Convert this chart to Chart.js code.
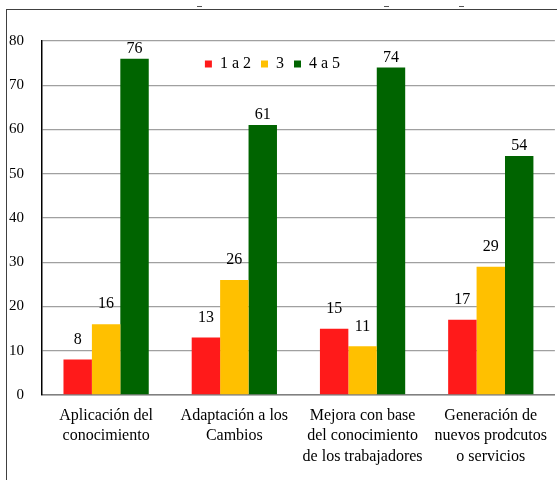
<!DOCTYPE html>
<html>
<head>
<meta charset="utf-8">
<script src="https://cdn.jsdelivr.net/npm/chart.js@4"></script>
<style>
  body { margin: 0; background: #fff; }
  #wrap { position: relative; width: 557px; height: 480px; overflow: hidden; }
  #marco { position: absolute; left: 6px; top: 9px; width: 600px; height: 500px;
           border-left: 1px solid #404040; border-top: 1px solid #404040; }
  .resto { position: absolute; top: 6px; width: 5px; height: 1px; background: #555; }
  canvas { position: absolute; left: 0; top: 0; }
</style>
</head>
<body>
<div id="wrap">
  <div class="resto" style="left:197px"></div>
  <div class="resto" style="left:384px"></div>
  <div class="resto" style="left:459px"></div>
  <div id="marco"></div>
  <canvas id="grafico" width="557" height="480"></canvas>
</div>
<script>
const categorias = [
  ['Aplicación del', 'conocimiento'],
  ['Adaptación a los', 'Cambios'],
  ['Mejora con base', 'del conocimiento', 'de los trabajadores'],
  ['Generación de', 'nuevos prodcutos', 'o servicios']
];
const serie1a2 = [8, 13, 15, 17];
const serie3 = [16, 26, 11, 29];
const serie4a5 = [76, 61, 74, 54];
const ticksY = [0, 10, 20, 30, 40, 50, 60, 70, 80];

const fuente = '"Liberation Serif", serif';

// etiquetas de valor encima de cada barra
const etiquetas = {
  id: 'etiquetas',
  afterDatasetsDraw(chart, args, opts) {
    const ctx = chart.ctx;
    ctx.save();
    ctx.font = '16px ' + fuente;
    ctx.fillStyle = '#000';
    ctx.textAlign = 'center';
    ctx.textBaseline = 'middle';
    chart.data.datasets.forEach((ds, i) => {
      const off = opts.offsets[i];
      chart.getDatasetMeta(i).data.forEach((bar, j) => {
        ctx.fillText(ds.data[j], bar.x, bar.y - off);
      });
    });
    ctx.restore();
  }
};

// la leyenda va dentro del area del grafico, como en el original
const moverLeyenda = {
  id: 'moverLeyenda',
  afterLayout(chart) {
    const l = chart.legend;
    l.left -= 6; l.right -= 6;
    l.top += 41; l.bottom += 41;
  }
};

new Chart(document.getElementById('grafico').getContext('2d'), {
  type: 'bar',
  data: {
    labels: categorias,
    datasets: [
      { label: '1 a 2', data: serie1a2, backgroundColor: '#FF1A1A' },
      { label: '3', data: serie3, backgroundColor: '#FFC000' },
      { label: '4 a 5', data: serie4a5, backgroundColor: '#006400' }
    ]
  },
  options: {
    responsive: false,
    animation: false,
    layout: { padding: { top: 5 } },
    datasets: { bar: { barPercentage: 1, categoryPercentage: 0.665 } },
    plugins: {
      legend: {
        position: 'top',
        align: 'center',
        labels: {
          boxWidth: 7, boxHeight: 7, padding: 10,
          color: '#000',
          font: { family: fuente, size: 16 }
        }
      },
      tooltip: { enabled: false },
      etiquetas: { offsets: [20, 20, 10] }
    },
    scales: {
      x: {
        grid: { display: false, drawTicks: false },
        border: { color: '#808080', width: 1.5 },
        ticks: {
          color: '#000', padding: 10, autoSkip: false, maxRotation: 0,
          font: { family: fuente, size: 16, lineHeight: 1.3 }
        },
        afterFit(scale) { scale.height = 85; }
      },
      y: {
        min: 0, max: 80,
        afterBuildTicks(scale) { scale.ticks = ticksY.map(v => ({ value: v })); },
        grid: { color: '#A0A0A0', lineWidth: 1.3, drawTicks: false },
        border: { color: '#000', width: 1.5 },
        ticks: {
          color: '#000', padding: 18,
          font: { family: fuente, size: 15 }
        },
        afterFit(scale) { scale.width = 42; }
      }
    }
  },
  plugins: [etiquetas, moverLeyenda]
});
</script>
</body>
</html>
